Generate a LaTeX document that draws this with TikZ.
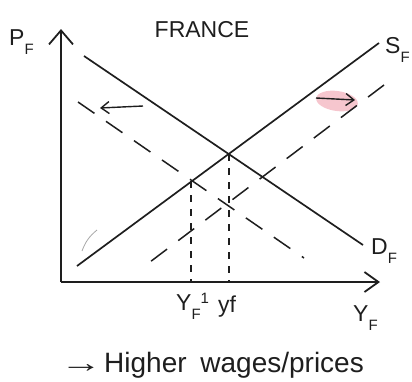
\documentclass[tikz,border=0pt]{standalone}
\usepackage{fontspec}
\setmainfont{Liberation Sans}
\usetikzlibrary{arrows.meta}
\definecolor{ink}{RGB}{30,30,30}
\definecolor{hl}{RGB}{246,198,206}
\newcommand\lowsub[1]{\raisebox{-0.4em}{\fontsize{15}{15}\selectfont #1}}
\begin{document}
\begin{tikzpicture}[x=1pt,y=-1pt,
  curve/.style={draw=ink,line width=1.7pt},
  shifted/.style={draw=ink,line width=1.5pt,dash pattern=on 20pt off 14pt},
  guide/.style={draw=ink,line width=1.2pt,dash pattern=on 7pt off 7pt},
  axis/.style={draw=ink,line width=1.8pt},
  lbl/.style={inner sep=0pt,text=ink,font=\fontsize{23}{23}\selectfont},
  shiftarrow/.style={draw=ink,line width=1.4pt,-{Straight Barb[length=8pt,width=12pt]}}]
\useasboundingbox (0,0) rectangle (412,381);
% highlight behind right arrow
\fill[hl,rotate around={-8:(337,101)}] (337,101) ellipse (21pt and 10pt);
% coordinates
\coordinate (O) at (61,282);
\coordinate (ytop) at (61,29);
\coordinate (xend) at (380,282);
\coordinate (D1) at (84,56);
\coordinate (D2) at (363,245);
\coordinate (S1) at (77,266);
\coordinate (S2) at (379,43);
\coordinate (Dd1) at (78,102);
\coordinate (Dd2) at (304,258);
\coordinate (Sd1) at (146,265);
\coordinate (Sd2) at (384,85);
\coordinate (E) at (229,154);
\coordinate (Ebase) at (229,282);
\coordinate (E2) at (191,181);
\coordinate (E2base) at (191,282);
% axes
\draw[axis,-{Straight Barb[length=14pt,width=24pt]}] (O) -- (ytop);
\draw[axis,-{Straight Barb[length=14pt,width=20pt]}] (O) -- (xend);
% curves
\draw[curve] (D1) -- (D2);
\draw[curve] (S1) -- (S2);
\draw[shifted] (Dd1) -- (Dd2);
\draw[shifted] (Sd2) -- (Sd1);
% guides
\draw[guide] (E) -- (Ebase);
\draw[guide] (E2) -- (E2base);
% shift arrows
\coordinate (la1) at (143,106);
\coordinate (la2) at (100,108);
\coordinate (ra1) at (316,98);
\coordinate (ra2) at (355,100);
\draw[shiftarrow] (la1) -- (la2);
\draw[shiftarrow] (ra1) -- (ra2);
% faint stroke
\coordinate (f1) at (82,251);
\coordinate (f2) at (97,230);
\draw[black!35,line width=0.8pt] (f1) to[bend left=15] (f2);
% labels
\node[lbl,anchor=base west] (PF) at (9,45) {P\lowsub{F}};
\node[lbl,anchor=base] (title) at (202,37) {FRANCE};
\node[lbl,anchor=base west] (SF) at (385,53) {S\lowsub{F}};
\node[lbl,anchor=base west] (DF) at (371,254) {D\lowsub{F}};
\node[lbl,anchor=base west] (YF1) at (176,310) {Y\lowsub{F}\raisebox{0.3em}{\fontsize{15}{15}\selectfont 1}};
\node[lbl,anchor=base west] (yf) at (218,312) {yf};
\node[lbl,anchor=base west] (YF) at (353,321) {Y\lowsub{F}};
\node[lbl,anchor=base west,font=\fontsize{28}{28}\selectfont] (note) at (60,372) {\scalebox{1.5}[1]{→}\hspace{2pt}Higher\hspace{6pt} wages/prices};
\end{tikzpicture}
\end{document}
